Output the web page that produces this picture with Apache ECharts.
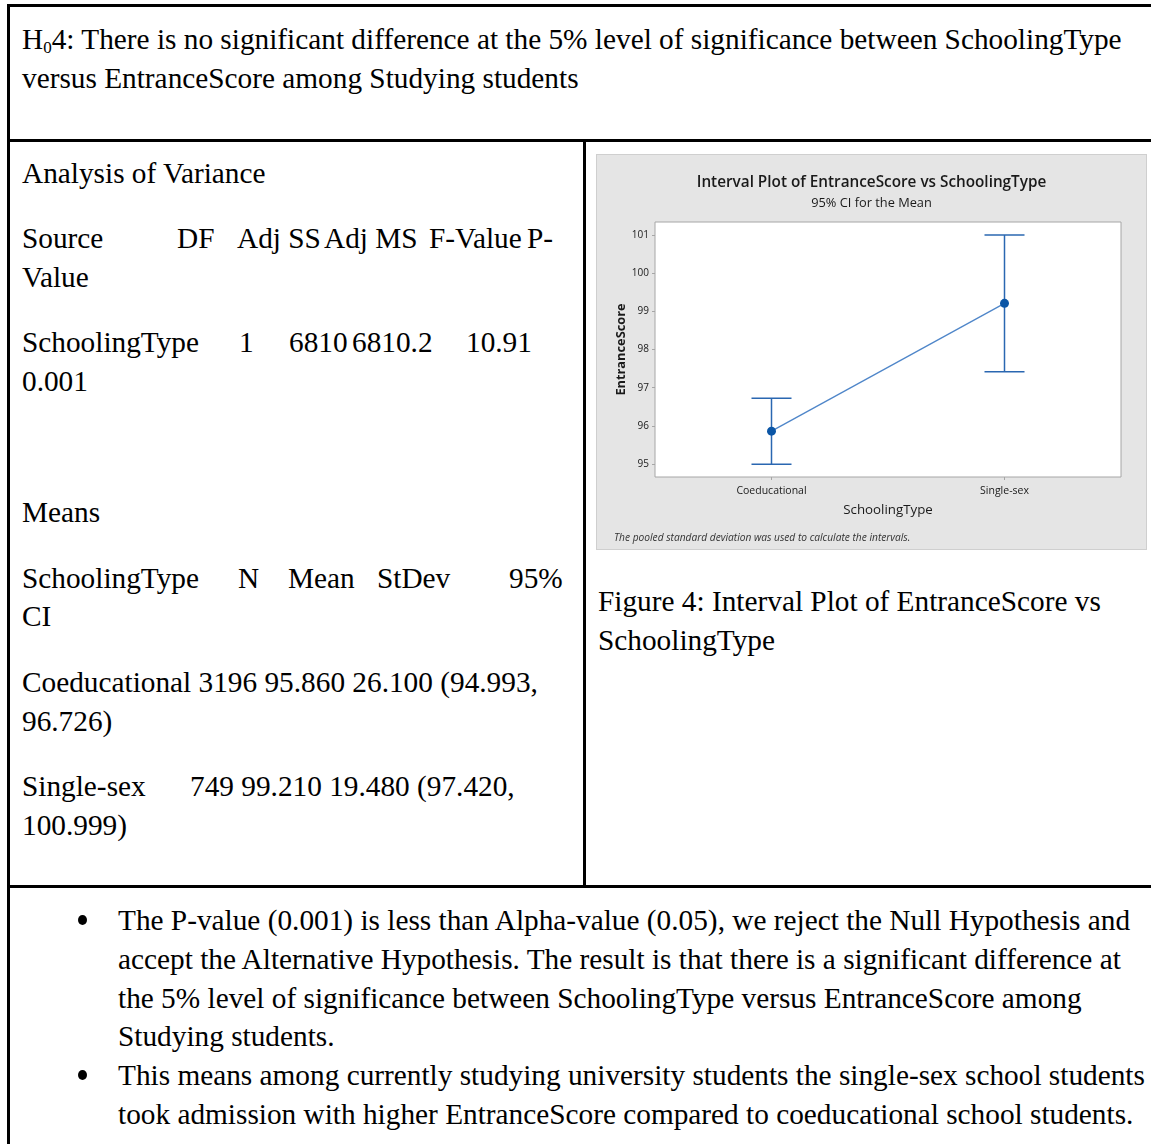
<!DOCTYPE html>
<html>
<head>
<meta charset="utf-8">
<script src="https://cdn.jsdelivr.net/npm/echarts@6/dist/echarts.min.js"></script>
<style>
  html, body { margin: 0; padding: 0; background: #fff; }
  #page { position: relative; width: 1151px; height: 1144px; overflow: hidden; background: #fff; }
  .rule { position: absolute; background: #000; }
  .t { position: absolute; white-space: nowrap; font-family: "Liberation Serif", "Times New Roman", serif;
       font-size: 29.3px; line-height: 40px; color: #000; }
  .w { position: absolute; top: 0; }
  .dot { position: absolute; width: 9px; height: 10px; border-radius: 50%; background: #000; }
  #chart { position: absolute; left: 597px; top: 155px; width: 549px; height: 394px;
           background: #e5e5e5; box-shadow: 0 0 0 1px #cfcfcf; }
  sub { font-size: 17px; vertical-align: -4px; line-height: 0; }
</style>
</head>
<body>
<div id="page">
  <!-- table rules -->
  <div class="rule" style="left:7px;top:4px;width:1144px;height:3px"></div>
  <div class="rule" style="left:7px;top:4px;width:3px;height:1140px"></div>
  <div class="rule" style="left:7px;top:139px;width:1144px;height:3px"></div>
  <div class="rule" style="left:583px;top:139px;width:3px;height:749px"></div>
  <div class="rule" style="left:7px;top:885px;width:1144px;height:3px"></div>

  <div id="text"></div>
  <div id="chart"></div>
</div>

<script>
// Interval plot data: group means and 95% confidence limits
const categories = ['Coeducational', 'Single-sex'];
const means = [95.86, 99.21];
const ciLower = [94.993, 97.420];
const ciUpper = [96.726, 100.999];
const yTicks = [95, 96, 97, 98, 99, 100, 101];

// ---------- document text ----------
const textLayer = document.getElementById('text');
function line(x, yCenter, html) {
  const d = document.createElement('div');
  d.className = 't';
  d.style.left = x + 'px';
  d.style.top = (yCenter - 20) + 'px';
  d.innerHTML = html;
  textLayer.appendChild(d);
  return d;
}
// a line made of words placed at fixed tab stops
function tabbed(yCenter, words) {
  const d = line(0, yCenter, '');
  words.forEach(([x, w]) => {
    const s = document.createElement('span');
    s.className = 'w';
    s.style.left = x + 'px';
    s.textContent = w;
    d.appendChild(s);
  });
}
function bullet(yCenter) {
  const b = document.createElement('div');
  b.className = 'dot';
  b.style.left = '78px';
  b.style.top = (yCenter - 5) + 'px';
  textLayer.appendChild(b);
}

line(22, 39, 'H<sub>0</sub>4: There is no significant difference at the 5% level of significance between SchoolingType');
line(22, 78, 'versus EntranceScore among Studying students');

line(22, 173, 'Analysis of Variance');
tabbed(238, [[22, 'Source'], [177, 'DF'], [237, 'Adj SS'], [324, 'Adj MS'], [429, 'F-Value'], [527, 'P-']]);
line(22, 277, 'Value');
tabbed(342, [[22, 'SchoolingType'], [239, '1'], [289, '6810'], [352, '6810.2'], [466, '10.91']]);
line(22, 381, '0.001');

line(22, 512, 'Means');
tabbed(578, [[22, 'SchoolingType'], [238, 'N'], [288, 'Mean'], [377, 'StDev'], [509, '95%']]);
line(22, 616, 'CI');
line(22, 682, 'Coeducational 3196 95.860 26.100 (94.993,');
line(22, 721, '96.726)');
tabbed(786, [[22, 'Single-sex'], [190, '749 99.210 19.480 (97.420,']]);
line(22, 825, '100.999)');

line(598, 601, 'Figure 4: Interval Plot of EntranceScore vs');
line(598, 640, 'SchoolingType');

bullet(920);
line(118, 920, 'The P-value (0.001) is less than Alpha-value (0.05), we reject the Null Hypothesis and');
line(118, 959, 'accept the Alternative Hypothesis. The result is that there is a significant difference at');
line(118, 998, 'the 5% level of significance between SchoolingType versus EntranceScore among');
line(118, 1036, 'Studying students.');
bullet(1075);
line(118, 1075, 'This means among currently studying university students the single-sex school students');
line(118, 1114, 'took admission with higher EntranceScore compared to coeducational school students.');

// ---------- interval plot ----------
const sans = '"Open Sans", "Noto Sans", sans-serif';
const chart = echarts.init(document.getElementById('chart'), null, { renderer: 'canvas' });

const intervalData = categories.map((c, i) => [i, ciLower[i], ciUpper[i]]);

chart.setOption({
  animation: false,
  backgroundColor: 'transparent',
  title: [
    { text: 'Interval Plot of EntranceScore vs SchoolingType', left: 'center', top: 15,
      textStyle: { fontFamily: sans, fontSize: 15.3, fontWeight: 600, color: '#1a1a1a' } },
    { text: '95% CI for the Mean', left: 'center', top: 37,
      textStyle: { fontFamily: sans, fontSize: 12.8, fontWeight: 'normal', color: '#1a1a1a' } },
    { text: 'The pooled standard deviation was used to calculate the intervals.', left: 12, top: 373,
      textStyle: { fontFamily: sans, fontSize: 10.2, fontStyle: 'italic', fontWeight: 'normal', color: '#333' } }
  ],
  grid: { left: 58, right: 25, top: 67, bottom: 72, show: true, backgroundColor: '#fff',
          borderColor: '#a6a6a6', borderWidth: 1 },
  xAxis: {
    type: 'category', data: categories, boundaryGap: true,
    name: 'SchoolingType', nameLocation: 'middle', nameGap: 27,
    nameTextStyle: { fontFamily: sans, fontSize: 13.3, color: '#1a1a1a' },
    axisLine: { show: false },
    axisTick: { show: true, alignWithLabel: true, length: 3, lineStyle: { color: '#a6a6a6' } },
    axisLabel: { margin: 9, fontFamily: sans, fontSize: 10.5, color: '#1a1a1a' },
    splitLine: { show: false }
  },
  yAxis: {
    type: 'value', min: 94.66, max: 101.34,
    name: 'EntranceScore', nameLocation: 'middle', nameGap: 27, nameMoveOverlap: false,
    nameTextStyle: { fontFamily: sans, fontSize: 12.8, fontWeight: 'bold', color: '#1a1a1a' },
    axisLine: { show: false },
    axisTick: { show: true, length: 3, customValues: yTicks, lineStyle: { color: '#a6a6a6' } },
    axisLabel: { customValues: yTicks, margin: 6, fontFamily: sans, fontSize: 10, color: '#1a1a1a' },
    splitLine: { show: false }
  },
  series: [
    {
      type: 'custom',
      data: intervalData,
      encode: { x: 0, y: [1, 2] },
      z: 2,
      renderItem(params, api) {
        const idx = api.value(0);
        const lo = api.coord([idx, api.value(1)]);
        const hi = api.coord([idx, api.value(2)]);
        const half = 20;
        const style = { stroke: '#2a67b1', lineWidth: 1.5 };
        return {
          type: 'group',
          children: [
            { type: 'line', shape: { x1: lo[0], y1: lo[1], x2: hi[0], y2: hi[1] }, style },
            { type: 'line', shape: { x1: lo[0] - half, y1: lo[1], x2: lo[0] + half, y2: lo[1] }, style },
            { type: 'line', shape: { x1: hi[0] - half, y1: hi[1], x2: hi[0] + half, y2: hi[1] }, style }
          ]
        };
      }
    },
    {
      type: 'line',
      data: means,
      z: 3,
      symbol: 'circle',
      symbolSize: 9,
      lineStyle: { color: '#4f86c9', width: 1.3 },
      itemStyle: { color: '#0b56a6' }
    }
  ]
});
</script>
</body>
</html>
